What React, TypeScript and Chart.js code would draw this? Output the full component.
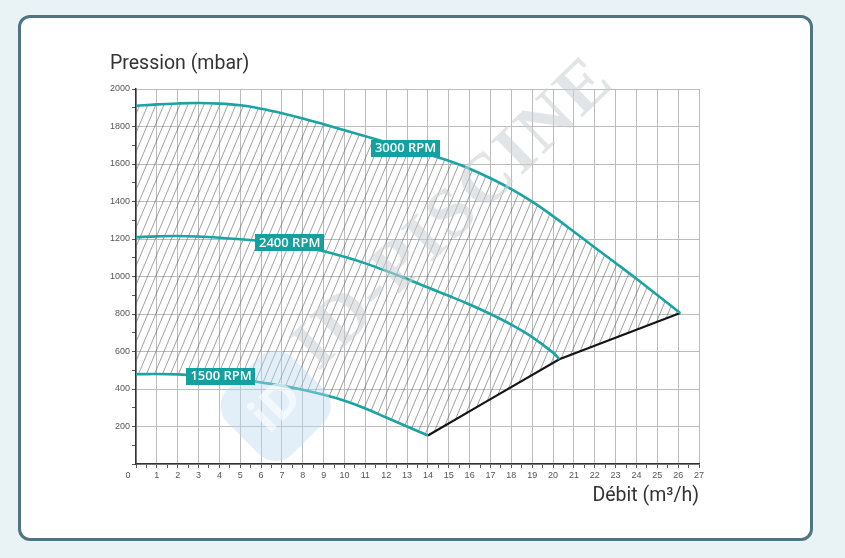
import React, { useEffect, useRef } from 'react';
import { Chart, registerables } from 'chart.js';

Chart.register(...registerables);

// ---- data ----
const flow3000 = [0, 1, 2, 3, 4, 5, 6, 7, 8, 9, 10, 11, 12, 13, 14, 15, 16, 17, 18, 19, 20, 21, 22, 23, 24, 25, 26.1];
const pressure3000 = [1910, 1918, 1923, 1925, 1922, 1913, 1895, 1871, 1843, 1812, 1780, 1748, 1716, 1684, 1652, 1617, 1575, 1524, 1466, 1399, 1322, 1239, 1155, 1072, 988, 901, 805];

const flow2400 = [0, 1, 2, 3, 4, 5, 6, 7, 8, 9, 10, 11, 12, 13, 14, 15, 16, 17, 18, 19, 20, 20.3];
const pressure2400 = [1210, 1214, 1216, 1213, 1207, 1199, 1189, 1175, 1157, 1135, 1105, 1070, 1030, 987, 941, 897, 851, 800, 743, 677, 594, 559];

const flow1500 = [0, 1, 2, 3, 4, 5, 6, 7, 8, 9, 10, 11, 12, 13, 14];
const pressure1500 = [479, 480, 478, 472, 463, 451, 435, 418, 396, 369, 337, 296, 248, 200, 152];

const limitFlow = [14, 17, 20.3, 26.1];
const limitPressure = [152, 346, 559, 805];

const curveLabels = ['3000 RPM', '2400 RPM', '1500 RPM'];
const labelFlow = [12.93, 7.37, 4.08];
const labelPressure = [1684, 1182, 468];

const xMax = 27;
const yMax = 2000;
const yTitle = 'Pression (mbar)';
const xTitle = 'Débit (m³/h)';
const watermarkText = 'ID-PISCINE';

const TEAL = '#1aa4a3';
const LABEL_BG = '#13a09e';

function toPoints(xs: number[], ys: number[]) {
  return xs.map((x, i) => ({ x, y: ys[i] }));
}

function makeHatch(): CanvasPattern | string {
  const c = document.createElement('canvas');
  const w = 8;
  const h = 19;
  c.width = w;
  c.height = h;
  const g = c.getContext('2d');
  if (!g) return 'rgba(0,0,0,0.1)';
  g.strokeStyle = 'rgba(85,85,85,0.7)';
  g.lineWidth = 0.8;
  for (let k = -1; k <= 1; k++) {
    g.beginPath();
    g.moveTo(k * w, h);
    g.lineTo(k * w + w, 0);
    g.stroke();
  }
  return g.createPattern(c, 'repeat') || 'rgba(0,0,0,0.1)';
}

const decoPlugin = {
  id: 'deco',
  afterDatasetsDraw(chart: any) {
    const { ctx, scales } = chart;
    const xs = scales.x;
    const ys = scales.y;
    // logo watermark
    const lx = xs.getPixelForValue(6.7);
    const ly = ys.getPixelForValue(310);
    ctx.save();
    ctx.translate(lx, ly);
    ctx.rotate(Math.PI / 4);
    ctx.fillStyle = 'rgba(185,218,240,0.42)';
    const s = 92;
    const r = 24;
    ctx.beginPath();
    ctx.moveTo(-s / 2 + r, -s / 2);
    ctx.arcTo(s / 2, -s / 2, s / 2, s / 2, r);
    ctx.arcTo(s / 2, s / 2, -s / 2, s / 2, r);
    ctx.arcTo(-s / 2, s / 2, -s / 2, -s / 2, r);
    ctx.arcTo(-s / 2, -s / 2, s / 2, -s / 2, r);
    ctx.closePath();
    ctx.fill();
    ctx.rotate(-Math.PI / 2);
    ctx.fillStyle = 'rgba(255,255,255,0.6)';
    ctx.font = 'bold 48px "Open Sans"';
    ctx.textAlign = 'center';
    ctx.textBaseline = 'middle';
    ctx.fillText('iD', 0, 2);
    ctx.restore();
    // text watermark
    const wx = xs.getPixelForValue(15.3);
    const wy = ys.getPixelForValue(1330);
    ctx.save();
    ctx.translate(wx, wy);
    ctx.rotate((-44 * Math.PI) / 180);
    ctx.font = 'bold 70px "Liberation Serif"';
    try { (ctx as any).letterSpacing = '3px'; } catch (e) {}
    ctx.fillStyle = 'rgba(200,207,212,0.55)';
    ctx.textAlign = 'center';
    ctx.textBaseline = 'middle';
    ctx.fillText(watermarkText, 0, 0);
    ctx.restore();

    // curve labels
    ctx.save();
    ctx.font = '600 13px "Open Sans"';
    ctx.textAlign = 'center';
    ctx.textBaseline = 'middle';
    curveLabels.forEach((t, i) => {
      const cx = xs.getPixelForValue(labelFlow[i]);
      const cy = ys.getPixelForValue(labelPressure[i]);
      const w = ctx.measureText(t).width + 8;
      const h = 17;
      ctx.fillStyle = LABEL_BG;
      ctx.fillRect(Math.round(cx - w / 2), Math.round(cy - h / 2), Math.round(w), h);
      ctx.fillStyle = '#ffffff';
      ctx.fillText(t, cx, cy + 0.5);
    });
    ctx.restore();
  },
  afterDraw(chart: any) {
    const { ctx, chartArea, scales } = chart;
    const px = scales.x.getPixelForValue(0);
    ctx.save();
    ctx.font = '9px "Liberation Sans"';
    ctx.fillStyle = '#555';
    ctx.textAlign = 'center';
    ctx.textBaseline = 'middle';
    ctx.fillText('0', px - 8, chartArea.bottom + 11.5);
    ctx.restore();
  },
};

export default function App() {
  const ref = useRef<HTMLCanvasElement | null>(null);

  useEffect(() => {
    if (!ref.current) return;
    const hatch = makeHatch();
    const chart = new Chart(ref.current, {
      type: 'line',
      data: {
        datasets: [
          {
            label: '3000 RPM',
            data: toPoints(flow3000, pressure3000),
            borderColor: TEAL,
            borderWidth: 2.6,
            pointRadius: 0,
            tension: 0.4,
            fill: false,
          },
          {
            label: '2400 RPM',
            data: toPoints(flow2400, pressure2400),
            borderColor: TEAL,
            borderWidth: 2.6,
            pointRadius: 0,
            tension: 0.4,
            fill: false,
          },
          {
            label: '1500 RPM',
            data: toPoints(flow1500, pressure1500),
            borderColor: TEAL,
            borderWidth: 2.6,
            pointRadius: 0,
            tension: 0.4,
            fill: { target: 0 },
            backgroundColor: hatch as any,
          },
          {
            label: 'Limite',
            data: toPoints(limitFlow, limitPressure),
            borderColor: '#151515',
            borderWidth: 2.2,
            pointRadius: 0,
            tension: 0,
            fill: { target: 0 },
            backgroundColor: hatch as any,
          },
        ],
      },
      options: {
        animation: false,
        responsive: false,
        layout: { padding: { left: 110, right: 146, top: 52, bottom: 50 } },
        plugins: {
          legend: { display: false },
          tooltip: { enabled: false },
          title: {
            display: true,
            text: yTitle,
            align: 'start',
            color: '#333',
            font: { family: 'Roboto', size: 19.5, weight: 'normal' },
            padding: { top: 0, bottom: 13.6 },
          },
        },
        scales: {
          x: {
            type: 'linear',
            min: 0,
            max: xMax,
            afterFit: (s: any) => { s.height = 44; },
            border: { display: true, color: '#333', width: 1.5 },
            grid: {
              color: (c: any) => (Number.isInteger(c.tick?.value) ? '#bcbcbc' : 'rgba(0,0,0,0)'),
              tickColor: '#555',
              tickLength: 4,
              lineWidth: 1,
            },
            ticks: {
              stepSize: 0.5,
              autoSkip: false,
              maxRotation: 0,
              padding: 2,
              color: '#555',
              font: { family: 'Liberation Sans', size: 9 },
              callback: (v: any) => (Number.isInteger(v) && v !== 0 ? String(v) : ''),
            },
            title: {
              display: true,
              text: xTitle,
              align: 'end',
              color: '#333',
              font: { family: 'Roboto', size: 19.5, weight: 'normal' },
              padding: { top: 6, bottom: 0 },
            },
          },
          y: {
            type: 'linear',
            min: 0,
            max: yMax,
            afterFit: (s: any) => { s.width = 26; },
            border: { display: true, color: '#333', width: 1.5 },
            grid: {
              color: (c: any) => (c.tick && c.tick.value % 200 === 0 ? '#bcbcbc' : 'rgba(0,0,0,0)'),
              tickColor: '#555',
              tickLength: 4,
              lineWidth: 1,
            },
            ticks: {
              stepSize: 100,
              autoSkip: false,
              padding: 2,
              color: '#555',
              font: { family: 'Liberation Sans', size: 9 },
              callback: (v: any) => (v % 200 === 0 && v !== 0 ? String(v) : ''),
            },
          },
        },
      },
      plugins: [decoPlugin],
    } as any);
    return () => chart.destroy();
  }, []);

  return (
    <div style={{ position: 'fixed', left: 0, top: 0, width: 845, height: 558, background: '#e9f2f4', overflow: 'hidden' }}>
      <div
        style={{
          position: 'absolute',
          left: 18,
          top: 15,
          width: 795,
          height: 526,
          border: '3px solid #4e7581',
          borderRadius: 12,
          background: '#ffffff',
          boxSizing: 'border-box',
        }}
      />
      <canvas ref={ref} width={845} height={558} style={{ position: 'absolute', left: 0, top: 0, width: 845, height: 558 }} />
    </div>
  );
}
